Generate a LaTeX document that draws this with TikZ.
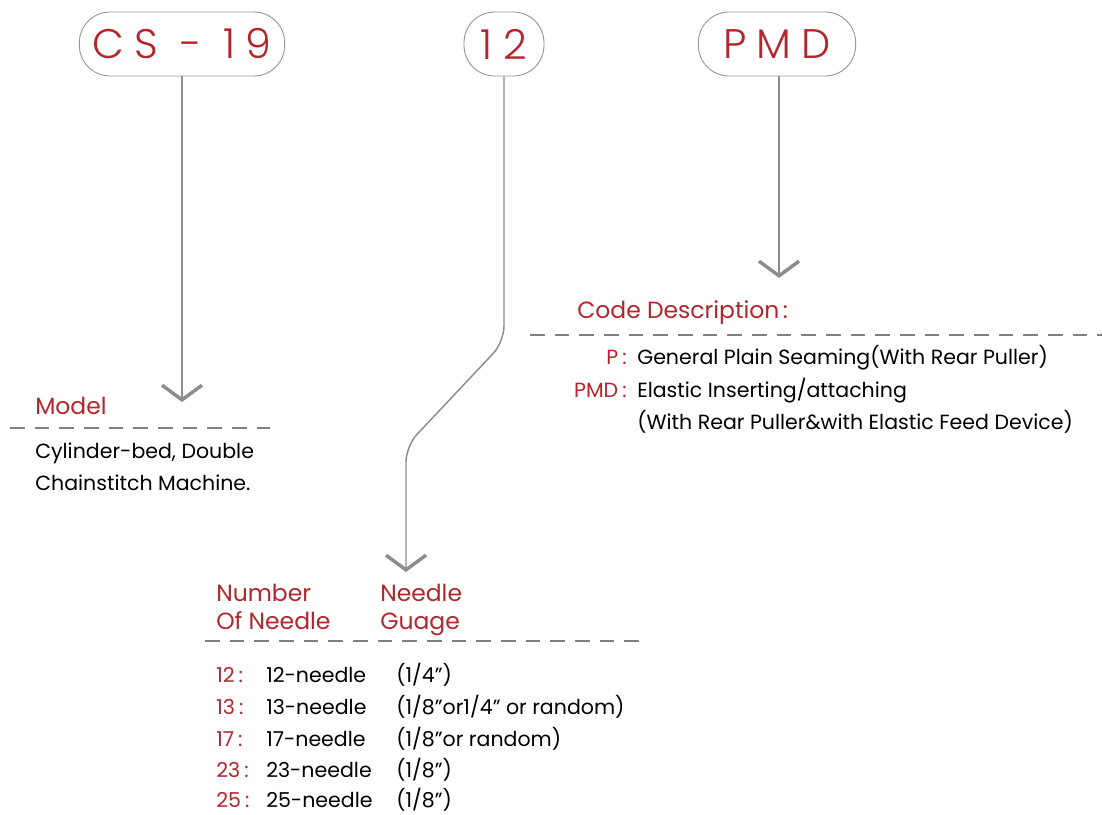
\documentclass[tikz,border=0pt]{standalone}
\usepackage{fontspec}
\setmainfont{Poppins}
\IfFontExistsTF{Poppins Light}{\newfontfamily\headfont{Poppins Light}}{\newfontfamily\headfont{Poppins}}
\usepackage{tikz}
\usetikzlibrary{arrows.meta}
\definecolor{codered}{RGB}{178,38,45}
\definecolor{linegray}{RGB}{128,128,128}

\begin{document}
\begin{tikzpicture}[x=0.75pt,y=-0.75pt,
bubble/.style={draw=linegray!80,line width=0.7pt,rounded corners=23pt,minimum height=48pt,text=codered,font=\headfont\fontsize{31}{31}\selectfont\addfontfeature{LetterSpace=25}},
lead/.style={draw=linegray!90,line width=1.1pt,-{Straight Barb[length=11pt,width=30pt,line width=2.6pt]}},
cut/.style={draw=linegray,line width=2.2pt,dash pattern=on 11pt off 7.5pt},
hd/.style={anchor=base west,inner sep=0pt,text=codered,font=\fontsize{17.6}{20}\selectfont},
key/.style={anchor=base west,inner sep=0pt,text=codered,font=\fontsize{15.4}{18}\selectfont},
txt/.style={anchor=base west,inner sep=0pt,font=\fontsize{15.4}{18}\selectfont}]
\useasboundingbox (0,0) rectangle (1102,814);
% code bubbles
\node[bubble,minimum width=154pt] (cs) at (182,44) {CS - 19};
\node[bubble,minimum width=60pt] (ng) at (504,44) {12};
\node[bubble,minimum width=118pt] (pmd) at (777,44) {PMD};
\coordinate (mdl) at (182,402);
\coordinate (ndl) at (406,572);
\coordinate (cod) at (779,278);
\draw[lead] (cs.south) -- (mdl);
\draw[lead,rounded corners=12pt] (ng.south) -- (ng.south |- 0,342) -- (406,446) -- (ndl);
\draw[lead] (pmd.south -| cod) -- (cod);
% model
\node[hd] (model) at (35,414) {Model};
\draw[cut] (10,428) -- (270,428);
\node[txt] (cyl) at (35,458) {Cylinder-bed, Double};
\node[txt] (chn) at (35,490) {Chainstitch Machine.};
% code description
\node[hd] (desc) at (577,318) {Code Description\hspace{0.15em}:};
\draw[cut] (530,335) -- (1102,335);
\node[key,anchor=base east] (p) at (627,364) {P\hspace{0.2em}:};
\node[txt] (pt) at (637,364) {General Plain Seaming(With Rear Puller)};
\node[key,anchor=base east] (pm) at (627,397) {PMD\hspace{0.2em}:};
\node[txt] (pmt) at (637,397) {Elastic Inserting/attaching};
\node[txt] (pmt2) at (637,429) {(With Rear Puller\&with Elastic Feed Device)};
% needles
\node[hd] (num) at (216,601) {Number};
\node[hd] (numb) at (216,629) {Of Needle};
\node[hd] (gg) at (380,601) {Needle};
\node[hd] (ggb) at (380,629) {Guage};
\draw[cut] (205,641) -- (645,641);
\foreach \y/\n/\g in %
{682/12/{(1/4")},714/13/{(1/8"or1/4" or random)},746/17/{(1/8"or random)},777/23/{(1/8")},807/25/{(1/8")}} {
   \node[key] (c\n) at (216,\y) {\n\hspace{0.2em}:};
   \node[txt] (d\n) at (266,\y) {\n-needle};
   \node[txt] (g\n) at (396,\y) {\g};
}
\end{tikzpicture}
\end{document}
